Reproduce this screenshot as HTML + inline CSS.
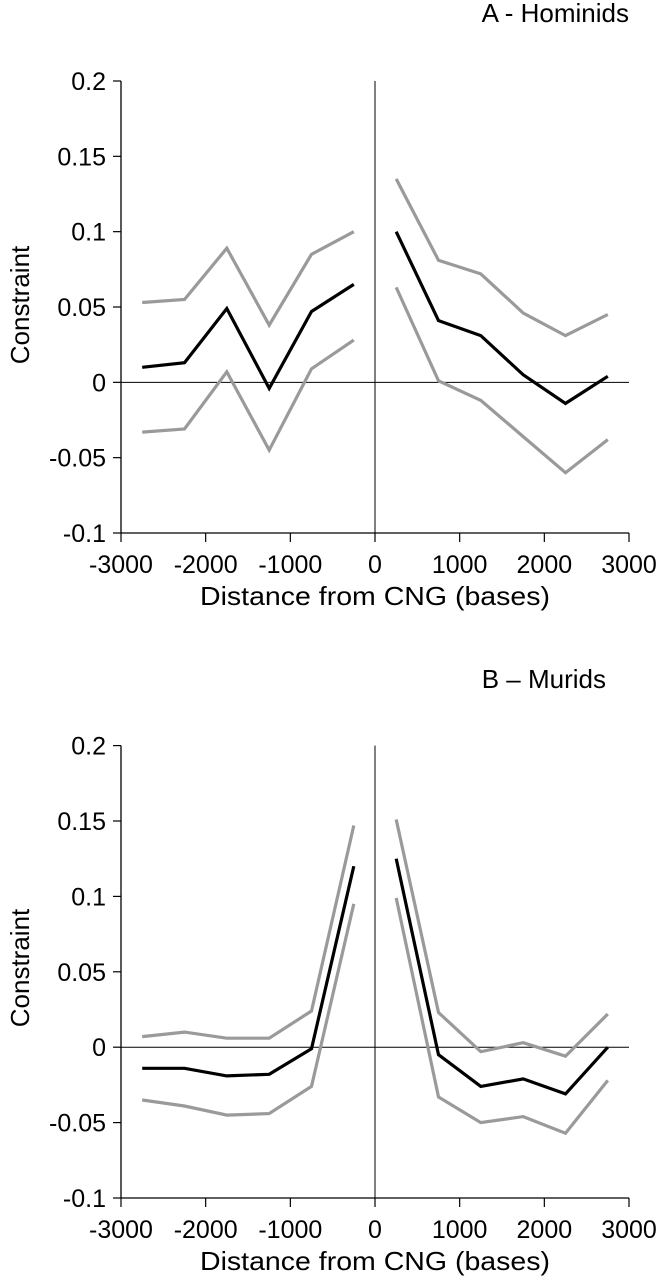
<!DOCTYPE html>
<html><head><meta charset="utf-8"><style>
body{margin:0;background:#fff;width:660px;height:1280px;overflow:hidden}
svg{display:block}
text{font-family:"Liberation Sans",Arial,sans-serif;fill:#000}
</style></head><body>
<svg id="chart" width="660" height="1280" viewBox="0 0 660 1280"></svg>
<script>
const xPositions = [-2750,-2250,-1750,-1250,-750,-250,250,750,1250,1750,2250,2750];
const xTicks = [-3000,-2000,-1000,0,1000,2000,3000];
const yTicks = [0.2,0.15,0.1,0.05,0,-0.05,-0.1];
const yTickLabels = ["0.2","0.15","0.1","0.05","0","-0.05","-0.1"];
const aMean = [0.010,0.013,0.049,-0.004,0.047,0.065,0.100,0.041,0.031,0.005,-0.014,0.004];
const aUpper = [0.053,0.055,0.089,0.038,0.085,0.100,0.135,0.081,0.072,0.046,0.031,0.045];
const aLower = [-0.033,-0.031,0.007,-0.045,0.009,0.028,0.063,0.001,-0.012,-0.036,-0.060,-0.038];
const bMean = [-0.014,-0.014,-0.019,-0.018,-0.001,0.120,0.125,-0.005,-0.026,-0.021,-0.031,0.000];
const bUpper = [0.007,0.010,0.006,0.006,0.024,0.147,0.151,0.023,-0.003,0.003,-0.006,0.022];
const bLower = [-0.035,-0.039,-0.045,-0.044,-0.026,0.095,0.099,-0.033,-0.050,-0.046,-0.057,-0.022];

const NS='http://www.w3.org/2000/svg';
const svg=document.getElementById('chart');
function mk(tag,attrs,parent){const e=document.createElementNS(NS,tag);for(const k in attrs)e.setAttribute(k,attrs[k]);(parent||svg).appendChild(e);return e;}

function panel(key,title,titleX,titleY,yTop,yBot,mean,upper,lower,ylabY){
  const g=mk('g',{});
  
  
  const x0=121,x1=629;
  const X=v=>x0+(v+3000)/6000*(x1-x0);
  const Y=v=>yTop+(0.2-v)/0.3*(yBot-yTop);
  const t=mk('text',{x:titleX,y:titleY,'font-size':'26','text-anchor':'end'},g);
  t.textContent=title;
  
  
  const ya=mk('line',{x1:x0,y1:Y(0.2),x2:x0,y2:Y(-0.1),stroke:'#000','stroke-width':1.3},g);
  
  
  yTicks.forEach((v,i)=>{
    mk('line',{x1:x0-8,y1:Y(v),x2:x0,y2:Y(v),stroke:'#000','stroke-width':1.2},g);
    const tl=mk('text',{x:106,y:Y(v)+9,'font-size':'25','text-anchor':'end'},g);
    tl.textContent=yTickLabels[i];
    
    
  });
  const xa=mk('line',{x1:x0,y1:Y(-0.1),x2:x1,y2:Y(-0.1),stroke:'#000','stroke-width':1.3},g);
  
  
  xTicks.forEach(v=>{
    mk('line',{x1:X(v),y1:Y(-0.1),x2:X(v),y2:Y(-0.1)+9,stroke:'#000','stroke-width':1.2},g);
    const tl=mk('text',{x:X(v),y:Y(-0.1)+40,'font-size':'25','text-anchor':'middle'},g);
    tl.textContent=String(v);
    
    
  });
  const zh=mk('line',{x1:x0,y1:Y(0),x2:x1,y2:Y(0),stroke:'#000','stroke-width':1},g);
  
  
  const zv=mk('line',{x1:X(0),y1:Y(0.2),x2:X(0),y2:Y(-0.1),stroke:'#000','stroke-width':1},g);
  
  
  const series=[[upper,'#9a9a9a','upper-bound'],[lower,'#9a9a9a','lower-bound'],[mean,'#000','mean']];
  series.forEach(([arr,col,nm])=>{
    [[0,6],[6,12]].forEach(([s,e],side)=>{
      let d='';
      for(let i=s;i<e;i++)d+=(i===s?'M':'L')+X(xPositions[i]).toFixed(1)+','+Y(arr[i]).toFixed(1);
      const p=mk('path',{d:d,fill:'none',stroke:col,'stroke-width':3.2,'stroke-linejoin':'miter'},g);
      
      
    });
  });
  const yl=mk('text',{x:0,y:0,'font-size':'26','text-anchor':'middle',transform:'translate(29,'+ylabY+') rotate(-90)'},g);
  yl.textContent='Constraint';
  
  
  const xl=mk('text',{x:375,y:Y(-0.1)+72,'font-size':'26','text-anchor':'middle',textLength:'350',lengthAdjust:'spacingAndGlyphs'},g);
  xl.textContent='Distance from CNG (bases)';
  
  
}
panel('a','A - Hominids',629,22,81,533,aMean,aUpper,aLower,305);
panel('b','B \u2013 Murids',606,688,745.6,1198,bMean,bUpper,bLower,968);
</script>
</body></html>
